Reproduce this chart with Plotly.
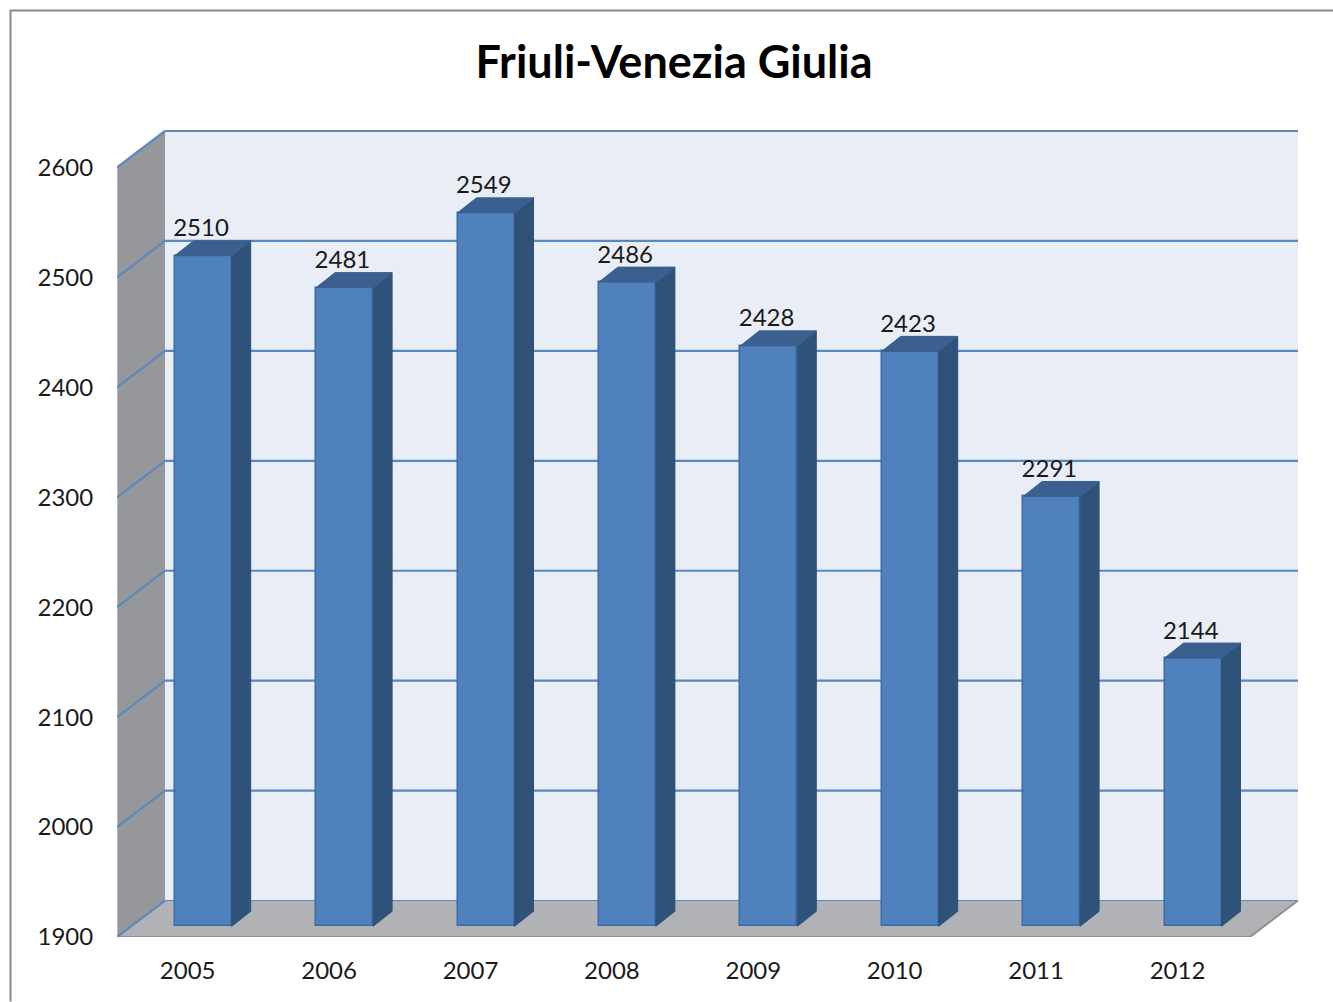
import plotly.graph_objects as go

years = ["2005", "2006", "2007", "2008", "2009", "2010", "2011", "2012"]
values = [2510, 2481, 2549, 2486, 2428, 2423, 2291, 2144]
y_ticks = [1900, 2000, 2100, 2200, 2300, 2400, 2500, 2600]
title_text = "Friuli-Venezia Giulia"

W, H = 1333, 1002
L, R, T, B = 117, 1299, 124, 937.5
X_MIN, Y_MIN = -0.5, 1900
PX_X = 141.4            # pixels per category
PX_Y = 1.1              # pixels per value unit
X_MAX = X_MIN + (R - L) / PX_X
Y_MAX = Y_MIN + (B - T) / PX_Y

# projection offsets, in axis units
WALL_DX, WALL_DY = 48 / PX_X, 36.5 / PX_Y
BAR_SHIFT_X, BAR_SHIFT_Y = 15.5 / PX_X, 10.7 / PX_Y
BAR_W = 57 / PX_X
BAR_DX, BAR_DY = 19 / PX_X, 15 / PX_Y
LABEL_GAP = 25.5 / PX_Y
LABEL_SHIFT = -2.2 / PX_X

GRID = "#5a88c0"
xs = list(range(len(years)))
wall_left = X_MIN + WALL_DX
wall_right = wall_left + (R - 1 - L - 48) / PX_X
wall_bottom = Y_MIN + WALL_DY
wall_top = y_ticks[-1] + WALL_DY
front_r = wall_right - WALL_DX


def poly(pts, fill, line=None, lw=0):
    path = "M " + " L ".join(f"{x},{y}" for x, y in pts) + " Z"
    return dict(type="path", path=path, xref="x", yref="y", layer="below",
                fillcolor=fill, line=dict(color=line or fill, width=lw))


def seg(x0, y0, x1, y1, color=GRID, width=2.2):
    return dict(type="line", xref="x", yref="y", layer="below", x0=x0, y0=y0, x1=x1, y1=y1,
                line=dict(color=color, width=width))


shapes = [
    # back wall
    poly([(wall_left, wall_bottom), (wall_right, wall_bottom), (wall_right, wall_top), (wall_left, wall_top)], "#e9edf6"),
    # side wall
    poly([(X_MIN, Y_MIN), (wall_left, wall_bottom), (wall_left, wall_top), (X_MIN, y_ticks[-1])], "#96979b"),
    # floor
    poly([(X_MIN, Y_MIN), (front_r, Y_MIN), (wall_right, wall_bottom), (wall_left, wall_bottom)], "#b0b2b6"),
    seg(X_MIN, Y_MIN, X_MIN, y_ticks[-1], "#b9babc", 2),
    seg(X_MIN, Y_MIN, front_r, Y_MIN, "#8f9093", 2),
    seg(front_r, Y_MIN, wall_right, wall_bottom, "#8f9093", 2),
]
for v in y_ticks:
    shapes.append(seg(X_MIN, v, wall_left, v + WALL_DY))
    shapes.append(seg(wall_left, v + WALL_DY, wall_right, v + WALL_DY, width=2.2 if v > Y_MIN else 1))

# outer chart border
px = lambda p: (p - L) / (R - L)
py = lambda p: (B - p) / (B - T)
shapes.append(dict(type="path", xref="paper", yref="paper", layer="above",
                   path=f"M {px(10.5)},{py(1002)} L {px(10.5)},{py(10.5)} L {px(1333)},{py(10.5)}",
                   line=dict(color="#8a8a8a", width=2)))

bar_x = [i + BAR_SHIFT_X for i in xs]
bar_base = Y_MIN + BAR_SHIFT_Y
tops = [v + BAR_SHIFT_Y for v in values]

side_x, side_y, top_x, top_y = [], [], [], []
for cx, t in zip(bar_x, tops):
    l, r = cx - BAR_W / 2, cx + BAR_W / 2
    side_x += [r, r + BAR_DX, r + BAR_DX, r, r, None]
    side_y += [bar_base, bar_base + BAR_DY, t + BAR_DY, t, bar_base, None]
    top_x += [l, r, r + BAR_DX, l + BAR_DX, l, None]
    top_y += [t, t, t + BAR_DY, t + BAR_DY, t, None]

fig = go.Figure()
fig.add_trace(go.Bar(x=bar_x, y=[t - bar_base for t in tops], base=bar_base, width=BAR_W,
                     marker=dict(color="#4f81bd", line=dict(color="#3c6ca6", width=1.5)),
                     hoverinfo="skip", showlegend=False))
fig.add_trace(go.Scatter(x=side_x, y=side_y, mode="lines", fill="toself", fillcolor="#2f5279",
                         line=dict(color="#2f5279", width=1), hoverinfo="skip", showlegend=False))
fig.add_trace(go.Scatter(x=top_x, y=top_y, mode="lines", fill="toself", fillcolor="#3b6090",
                         line=dict(color="#3b6090", width=1), hoverinfo="skip", showlegend=False))
fig.add_trace(go.Scatter(x=[x + LABEL_SHIFT for x in bar_x], y=[t + LABEL_GAP for t in tops], mode="text",
                         text=[str(v) for v in values], textposition="middle center",
                         textfont=dict(family="Lato", size=24, color="#1a1a1a"),
                         hoverinfo="skip", showlegend=False))

fig.update_layout(
    width=W, height=H,
    margin=dict(l=L, r=W - R, t=T, b=H - B, pad=0),
    paper_bgcolor="white", plot_bgcolor="white",
    font=dict(family="Lato", size=24, color="#1a1a1a"),
    title=dict(text=f"<b>{title_text}</b>", x=674 / W, xanchor="center", y=1 - 62 / H, yanchor="middle",
               font=dict(family="Lato", size=45, color="black")),
    shapes=shapes,
    bargap=0,
    xaxis=dict(range=[X_MIN, X_MAX], tickvals=xs, ticktext=years, showgrid=False, zeroline=False,
               showline=False, ticks="outside", ticklen=12, tickcolor="rgba(0,0,0,0)", fixedrange=True),
    yaxis=dict(range=[Y_MIN, Y_MAX], tickvals=y_ticks, showgrid=False, zeroline=False,
               showline=False, ticks="outside", ticklen=18, tickcolor="rgba(0,0,0,0)", fixedrange=True),
)
fig.write_html("out.html", config=dict(displayModeBar=False),
               post_script="document.body.style.margin='0';document.body.style.overflow='hidden';")
